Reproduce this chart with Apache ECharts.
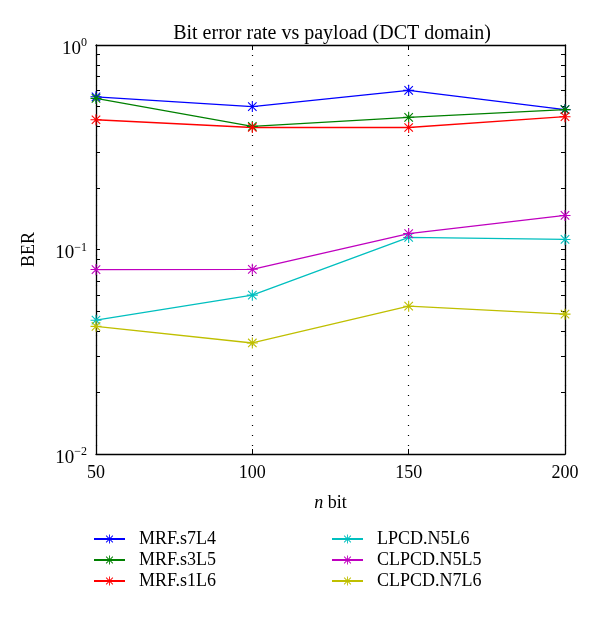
<!DOCTYPE html>
<html lang="en">
<head>
    <meta charset="UTF-8">
    <title>Bit error rate vs payload</title>
    <style>
        html, body { margin: 0; padding: 0; background: #fff; }
        #chart { width: 600px; height: 619px; }
    </style>
</head>
<body>
<div id="chart"></div>
<script type="text/javascript" src="https://cdn.jsdelivr.net/npm/echarts@6/dist/echarts.min.js"></script>
<script type="text/javascript">
    // payload (n bit) on the x axis
    var nbits = [50, 100, 150, 200];

    // BER, one array per method
    var mrfS7L4 = [0.558, 0.50, 0.60, 0.483];
    var mrfS3L5 = [0.548, 0.40, 0.443, 0.483];
    var mrfS1L6 = [0.431, 0.395, 0.395, 0.446];
    var lpcdN5L6 = [0.0451, 0.0598, 0.1145, 0.112];
    var clpcdN5L5 = [0.0798, 0.080, 0.1197, 0.1467];
    var clpcdN7L6 = [0.0421, 0.0349, 0.0528, 0.0483];

    var seriesNames = ['MRF.s7L4', 'MRF.s3L5', 'MRF.s1L6', 'LPCD.N5L6', 'CLPCD.N5L5', 'CLPCD.N7L6'];
    var seriesData = [mrfS7L4, mrfS3L5, mrfS1L6, lpcdN5L6, clpcdN5L5, clpcdN7L6];
    var colors = ['#0000ff', '#008000', '#ff0000', '#00bfbf', '#bf00bf', '#bfbf00'];

    // y ticks: decades get labels, every 1..9 multiple gets a tick
    var yLabelValues = [0.01, 0.1, 1];
    var yTickValues = [0.02, 0.03, 0.04, 0.05, 0.06, 0.07, 0.08, 0.09, 0.1,
        0.2, 0.3, 0.4, 0.5, 0.6, 0.7, 0.8, 0.9];

    var font = '"Liberation Serif", "DejaVu Serif", serif';

    // matlab style '*' marker
    var star = 'path://M0,4.5L10,4.5L10,5.5L0,5.5Z M4.5,0L5.5,0L5.5,10L4.5,10Z' +
        ' M1.5,0.8L9.2,8.5L8.5,9.2L0.8,1.5Z M8.5,0.8L9.2,1.5L1.5,9.2L0.8,8.5Z';

    var myChart = echarts.init(document.getElementById('chart'), null, {renderer: 'canvas'});

    var series = [];
    for (var i = 0; i < seriesNames.length; i++) {
        var pts = [];
        for (var j = 0; j < nbits.length; j++) {
            pts.push([nbits[j], seriesData[i][j]]);
        }
        series.push({
            name: seriesNames[i],
            type: 'line',
            data: pts,
            symbol: star,
            symbolSize: 11,
            showSymbol: true,
            lineStyle: {color: colors[i], width: 1.3},
            itemStyle: {color: colors[i]},
            animation: false
        });
    }

    var yAxisBase = function (pos) {
        return {
            type: 'log',
            logBase: 10,
            min: 0.01,
            max: 1,
            position: pos,
            axisLine: {show: true, lineStyle: {color: '#000', width: 1.3}},
            axisTick: {show: true, inside: true, length: 4, customValues: yTickValues,
                lineStyle: {color: '#000'}},
            splitLine: {show: false},
            minorTick: {show: false}
        };
    };

    var yLeft = yAxisBase('left');
    yLeft.name = 'BER';
    yLeft.nameLocation = 'middle';
    yLeft.nameGap = 58;
    yLeft.nameRotate = 90;
    yLeft.nameTextStyle = {fontFamily: font, fontSize: 18, color: '#000'};
    yLeft.axisLabel = {
        show: true,
        margin: 9,
        customValues: yLabelValues,
        formatter: function (v) {
            var e = Math.round(Math.log(v) / Math.LN10);
            var s = e < 0 ? '\u2212' + (-e) : '' + e;
            return '{b|10}{s|' + s + '}';
        },
        rich: {
            b: {fontFamily: font, fontSize: 19, color: '#000', padding: [8, 0, 0, 0]},
            s: {fontFamily: font, fontSize: 12, color: '#000', padding: [0, 0, 4, 0]}
        }
    };
    var yRight = yAxisBase('right');
    yRight.axisLabel = {show: false};

    var legendText = {fontFamily: font, fontSize: 18, color: '#000', padding: [0, 0, 0, 9]};

    var option = {
        backgroundColor: '#fff',
        animation: false,
        color: colors,
        title: {
            text: 'Bit error rate vs payload (DCT domain)',
            left: 327,
            textAlign: 'center',
            top: 19,
            textStyle: {fontFamily: font, fontSize: 20, fontWeight: 'normal', color: '#000'}
        },
        grid: {left: 96, right: 35, top: 45, bottom: 165},
        legend: [
            {
                data: seriesNames.slice(0, 3),
                orient: 'vertical',
                left: 88,
                top: 525,
                itemWidth: 31,
                itemHeight: 11,
                itemGap: 3,
                textStyle: legendText
            },
            {
                data: seriesNames.slice(3),
                orient: 'vertical',
                left: 326,
                top: 525,
                itemWidth: 31,
                itemHeight: 11,
                itemGap: 3,
                textStyle: legendText
            }
        ],
        xAxis: [
            {
                type: 'value',
                min: 50,
                max: 200,
                interval: 50,
                position: 'bottom',
                name: '{i|n} bit',
                nameLocation: 'middle',
                nameGap: 40,
                nameTextStyle: {
                    fontFamily: font, fontSize: 18, color: '#000',
                    rich: {i: {fontFamily: font, fontSize: 18, fontStyle: 'italic', color: '#000'}}
                },
                axisLine: {show: true, lineStyle: {color: '#000', width: 1.3}},
                axisTick: {show: true, inside: true, length: 5, lineStyle: {color: '#000'}},
                axisLabel: {fontFamily: font, fontSize: 18, color: '#000', margin: 10},
                splitLine: {show: true, lineStyle: {color: '#000', type: [1, 9], width: 1.2}}
            },
            {
                type: 'value',
                min: 50,
                max: 200,
                interval: 50,
                position: 'top',
                axisLine: {show: true, lineStyle: {color: '#000', width: 1.3}},
                axisTick: {show: true, inside: true, length: 5, lineStyle: {color: '#000'}},
                axisLabel: {show: false},
                splitLine: {show: false}
            }
        ],
        yAxis: [yLeft, yRight],
        series: series
    };

    myChart.setOption(option);
</script>
</body>
</html>
